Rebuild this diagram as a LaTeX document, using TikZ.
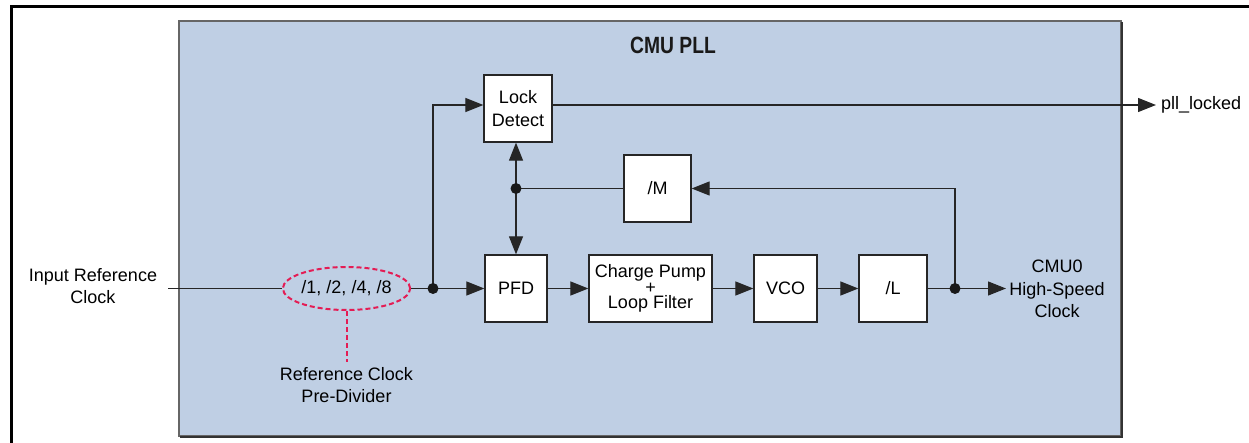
\documentclass[tikz,border=0pt]{standalone}
\usepackage{fontspec}
\usepackage{graphicx}
\setmainfont{Liberation Sans}
\usetikzlibrary{arrows.meta,shapes.geometric}
\definecolor{pllblue}{RGB}{191,207,228}
\definecolor{divred}{RGB}{228,28,84}
\newcommand\dgmfont{\fontsize{18}{22.5}\selectfont}
\tikzset{
  blk/.style={draw=black!85, line width=1.3pt, fill=white, inner sep=0pt, align=center, font=\dgmfont, minimum height=67pt},
  sig/.style={line width=1.2pt, draw=black!85},
  arr/.style={sig, -{Triangle[length=18pt,width=14pt]}},
  jdot/.style={circle, fill=black!90, inner sep=0pt, minimum size=11pt},
  lbl/.style={align=center, font=\dgmfont, inner sep=0pt}
}
\begin{document}
\begin{tikzpicture}[x=1pt,y=-1pt]
\useasboundingbox (0,0) rectangle (1249,443);
% outer frame
\draw[line width=3pt] (11,443) -- (11,7) -- (1249,7);
% PLL region
\fill[pllblue] (179,21) rectangle (1121,436);
\draw[black!60, line width=1.2pt] (179,21) rectangle (1121,436);
\draw[black!80, line width=1.6pt] (1122,22) -- (1122,437) -- (180,437);
\node[font=\fontsize{23.5}{26}\selectfont\bfseries, text=black!90] (title) at (673,45) {\scalebox{0.82}[1]{CMU PLL}};
% blocks
\node[blk, minimum width=68pt] (lock) at (518,108.5) {Lock\\Detect};
\node[blk, minimum width=67pt] (m) at (657.5,188.5) {/M};
\node[blk, minimum width=62pt] (pfd) at (516,288.5) {PFD};
\node[blk, minimum width=123pt, font=\fontsize{18}{15.5}\selectfont] (cp) at (650.5,288.5) {Charge Pump\\+\\Loop Filter};
\node[blk, minimum width=63pt] (vco) at (785.5,288.5) {VCO};
\node[blk, minimum width=68pt] (l) at (893,288.5) {/L};
% pre-divider
\node[draw=divred, dash pattern=on 5pt off 3pt, line width=2pt, ellipse, minimum width=113pt, minimum height=43pt, inner sep=0pt, font=\dgmfont] (div) at (346.5,288.5) {/1, /2, /4, /8};
\coordinate (dend) at (346.5,362);
\node[lbl] (divlbl) at (346.5,385) {Reference Clock\\Pre-Divider};
% labels
\node[lbl] (inref) at (93,286) {Input Reference\\Clock};
\coordinate (inpt) at (168,288.5);
\node[lbl, anchor=west] (pll) at (1161,105) {pll\_locked};
\coordinate (plltip) at (1156,105);
\node[lbl] (out) at (1057,289) {CMU0\\High-Speed\\Clock};
\coordinate (outtip) at (1006,288.5);
% junctions
\coordinate (jl) at (433,288.5);
\coordinate (jm) at (516,188.5);
\coordinate (jr) at (955,288.5);
% connectors
\draw[sig] (inpt) -- (div.west);
\draw[sig] (div.east) -- (jl);
\draw[arr] (jl) -- (pfd.west);
\draw[arr] (jl) |- ([yshift=3.5pt]lock.west);
\draw[arr] ([yshift=3.5pt]lock.east) -- (plltip);
\draw[arr] (pfd) -- (cp);
\draw[arr] (cp) -- (vco);
\draw[arr] (vco) -- (l);
\draw[sig] (l.east) -- (jr);
\draw[arr] (jr) -- (outtip);
\draw[arr] (jr) |- (m.east);
\draw[sig] (m.west) -- (jm);
\draw[arr] (jm) -- (jm |- lock.south);
\draw[arr] (jm) -- (jm |- pfd.north);
\draw[divred, dash pattern=on 5pt off 3pt, line width=2pt] (div.south) -- (dend);
% dots
\node[jdot] (djl) at (jl) {};
\node[jdot] (djm) at (jm) {};
\node[jdot] (djr) at (jr) {};
\end{tikzpicture}
\end{document}
